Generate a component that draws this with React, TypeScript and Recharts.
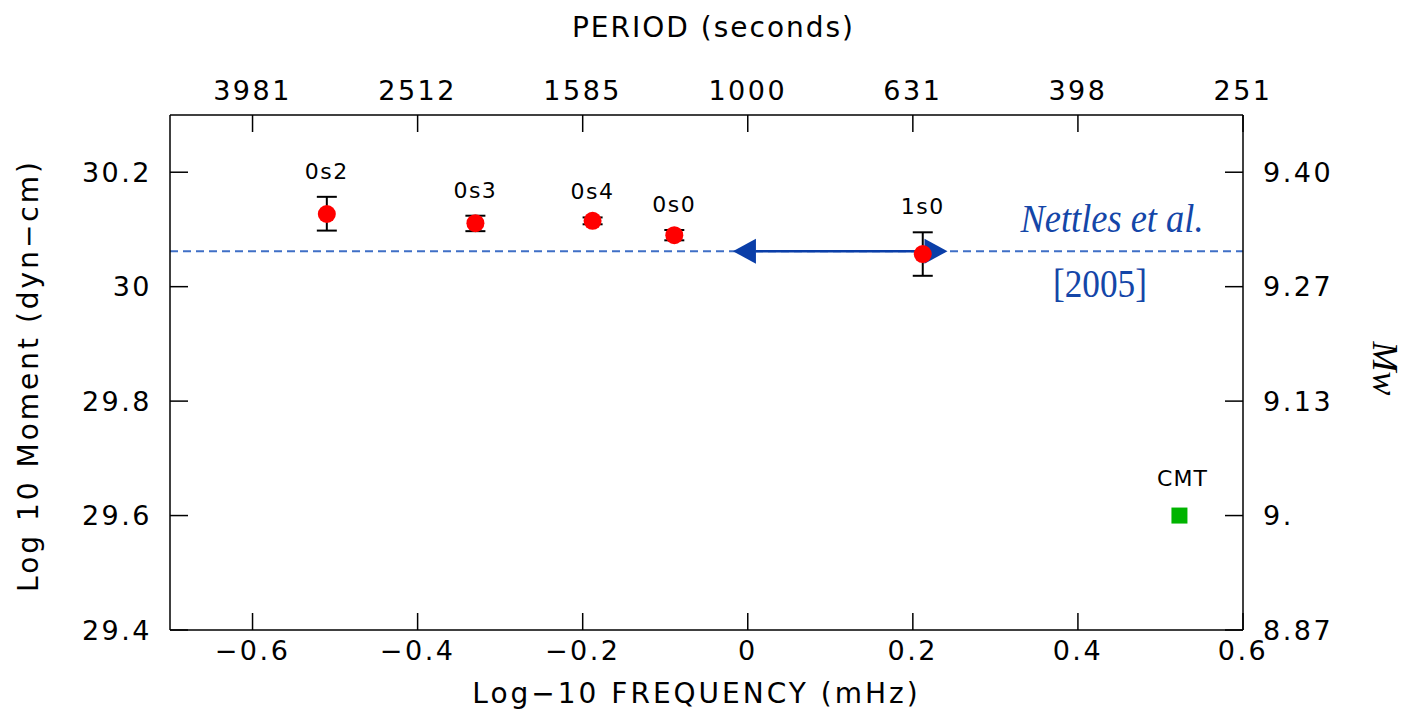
import { ScatterChart, Scatter, XAxis, YAxis, ReferenceLine, ErrorBar } from 'recharts'

const FONT = '"DejaVu Sans", sans-serif'
const SERIF = '"Liberation Serif", "Times New Roman", serif'
const BLUE_TEXT = '#1446a8'

// normal-mode moment estimates
const modeNames = ['0s2', '0s3', '0s4', '0s0', '1s0']
const modeLogFreq = [-0.51, -0.33, -0.188, -0.089, 0.212]
const modeLogMoment = [30.127, 30.111, 30.115, 30.09, 30.057]
const modeErrLow = [0.029, 0.014, 0.006, 0.009, 0.038]
const modeErrHigh = [0.03, 0.013, 0.006, 0.009, 0.038]

// CMT solution
const cmtName = 'CMT'
const cmtLogFreq = 0.523
const cmtLogMoment = 29.6

// Nettles et al. [2005] moment and its frequency band
const nettlesMoment = 30.062
const nettlesBand = [-0.018, 0.242]

const freqTicks = [-0.6, -0.4, -0.2, 0, 0.2, 0.4, 0.6]
const periodLabels = ['3981', '2512', '1585', '1000', '631', '398', '251']
const momentTicks = [29.4, 29.6, 29.8, 30, 30.2]
const mwLabels = ['8.87', '9.', '9.13', '9.27', '9.40']

const modeData = modeNames.map((name, i) => ({
  name,
  x: modeLogFreq[i],
  y: modeLogMoment[i],
  err: [modeErrLow[i], modeErrHigh[i]],
}))
// labels sit above the top of each error bar
const modeLabelData = modeNames.map((name, i) => ({
  name,
  x: modeLogFreq[i],
  y: modeLogMoment[i] + modeErrHigh[i],
}))
const cmtData = [{ name: cmtName, x: cmtLogFreq, y: cmtLogMoment }]

const tickStyle = { fill: '#000', fontSize: 27, fontFamily: FONT, letterSpacing: 2.5 }
const titleStyle = { fill: '#000', fontSize: 28, fontFamily: FONT }

const fmtFreq = (v: number) => (v === 0 ? '0' : (v < 0 ? '\u2212' : '') + Math.abs(v).toFixed(1))
const fmtMoment = (v: number) => (v === 30 ? '30' : v.toFixed(1))

const RedDot = (p: any) => <circle cx={p.cx} cy={p.cy} r={9} fill="#ff0000" />

const ModeLabel = (p: any) => (
  <text x={p.cx} y={p.cy - 18} textAnchor="middle" fontSize={22} fontFamily={FONT} letterSpacing={1.5} fill="#000">
    {p.payload.name}
  </text>
)

const CmtMark = (p: any) => (
  <g>
    <rect x={p.cx - 8} y={p.cy - 8} width={16} height={16} fill="#00b400" />
    <text x={p.cx + 3} y={p.cy - 30} textAnchor="middle" fontSize={22} fontFamily={FONT} letterSpacing={1} fill="#000">
      {p.payload.name}
    </text>
  </g>
)

// double-headed arrow spanning the Nettles band
const BandArrow = (p: any) => {
  const { x1, y1, x2 } = p
  const head = 23
  const half = 12.5
  const c = '#0a3ea8'
  return (
    <g>
      <line x1={x1 + head} y1={y1} x2={x2 - head} y2={y1} stroke={c} strokeWidth={2.5} />
      <polygon points={`${x1},${y1} ${x1 + head},${y1 - half} ${x1 + head},${y1 + half}`} fill={c} />
      <polygon points={`${x2},${y1} ${x2 - head},${y1 - half} ${x2 - head},${y1 + half}`} fill={c} />
    </g>
  )
}

const NettlesLabel = (p: any) => {
  const { x, y, width } = p.viewBox
  const right = x + width
  return (
    <g fill={BLUE_TEXT} fontFamily={SERIF}>
      <text x={right - 131} y={y - 19} textAnchor="middle" fontSize={40} fontStyle="italic" textLength={183} lengthAdjust="spacingAndGlyphs">
        Nettles et al.
      </text>
      <text x={right - 143} y={y + 46} textAnchor="middle" fontSize={39} textLength={94} lengthAdjust="spacingAndGlyphs">
        [2005]
      </text>
    </g>
  )
}

const BottomTitle = (p: any) => {
  const { x, y, width } = p.viewBox
  return (
    <text x={x + width / 2 - 10} y={y + 73} textAnchor="middle" letterSpacing={3} {...titleStyle}>
      Log{'\u2212'}10 FREQUENCY (mHz)
    </text>
  )
}

const TopTitle = (p: any) => {
  const { x, y, width } = p.viewBox
  return (
    <text x={x + width / 2 + 7} y={y - 18} textAnchor="middle" letterSpacing={2} {...titleStyle}>
      PERIOD (seconds)
    </text>
  )
}

const LeftTitle = (p: any) => {
  const { x, y, height } = p.viewBox
  const cx = x - 32
  const cy = y + height / 2 + 3
  return (
    <text x={cx} y={cy} textAnchor="middle" letterSpacing={3} transform={`rotate(-90, ${cx}, ${cy})`} {...titleStyle}>
      Log 10 Moment (dyn{'\u2212'}cm)
    </text>
  )
}

const RightTitle = (p: any) => {
  const { x, y, height } = p.viewBox
  const cx = x + 130
  const cy = y + height / 2 - 4
  return (
    <text x={cx} y={cy} textAnchor="middle" transform={`rotate(90, ${cx}, ${cy})`} fontSize={36} fontStyle="italic" fontFamily={SERIF} fill="#000">
      Mw
    </text>
  )
}

export default function App() {
  return (
    <div style={{ position: 'absolute', left: 0, top: 0, background: '#fff' }}>
      <ScatterChart width={1413} height={711} margin={{ top: 55, right: 70, bottom: 21, left: 70 }}>
        <XAxis
          xAxisId="bottom"
          type="number"
          dataKey="x"
          domain={[-0.7, 0.6]}
          ticks={freqTicks}
          interval={0}
          allowDataOverflow
          height={60}
          tickSize={-17}
          tickMargin={28}
          tickFormatter={fmtFreq}
          tick={tickStyle}
          stroke="#000"
          strokeWidth={1.5}
          label={BottomTitle}
        />
        <XAxis
          xAxisId="top"
          orientation="top"
          type="number"
          dataKey="x"
          domain={[-0.7, 0.6]}
          ticks={freqTicks}
          interval={0}
          allowDataOverflow
          height={60}
          tickSize={-17}
          tickMargin={32}
          tickFormatter={(_v: number, i: number) => periodLabels[i]}
          tick={tickStyle}
          stroke="#000"
          strokeWidth={1.5}
          label={TopTitle}
        />
        <YAxis
          yAxisId="left"
          type="number"
          dataKey="y"
          domain={[29.4, 30.3]}
          ticks={momentTicks}
          interval={0}
          allowDataOverflow
          width={100}
          tickSize={-18}
          tickMargin={36}
          tickFormatter={fmtMoment}
          tick={tickStyle}
          stroke="#000"
          strokeWidth={1.5}
          label={LeftTitle}
        />
        <YAxis
          yAxisId="right"
          orientation="right"
          type="number"
          dataKey="y"
          domain={[29.4, 30.3]}
          ticks={momentTicks}
          interval={0}
          allowDataOverflow
          width={100}
          tickSize={-18}
          tickMargin={38}
          tickFormatter={(_v: number, i: number) => mwLabels[i]}
          tick={tickStyle}
          stroke="#000"
          strokeWidth={1.5}
          label={RightTitle}
        />
        <ReferenceLine
          xAxisId="bottom"
          yAxisId="left"
          y={nettlesMoment}
          stroke="#3f6fc6"
          strokeWidth={2}
          strokeDasharray="8 5"
          label={NettlesLabel}
        />
        <ReferenceLine
          xAxisId="bottom"
          yAxisId="left"
          segment={[
            { x: nettlesBand[0], y: nettlesMoment },
            { x: nettlesBand[1], y: nettlesMoment },
          ]}
          shape={BandArrow}
        />
        <Scatter xAxisId="bottom" yAxisId="left" data={modeData} shape={RedDot} isAnimationActive={false}>
          <ErrorBar dataKey="err" direction="y" width={10} stroke="#000" strokeWidth={2} isAnimationActive={false} />
        </Scatter>
        <Scatter xAxisId="bottom" yAxisId="left" data={modeLabelData} shape={ModeLabel} isAnimationActive={false} />
        <Scatter xAxisId="bottom" yAxisId="left" data={cmtData} shape={CmtMark} isAnimationActive={false} />
      </ScatterChart>
    </div>
  )
}
